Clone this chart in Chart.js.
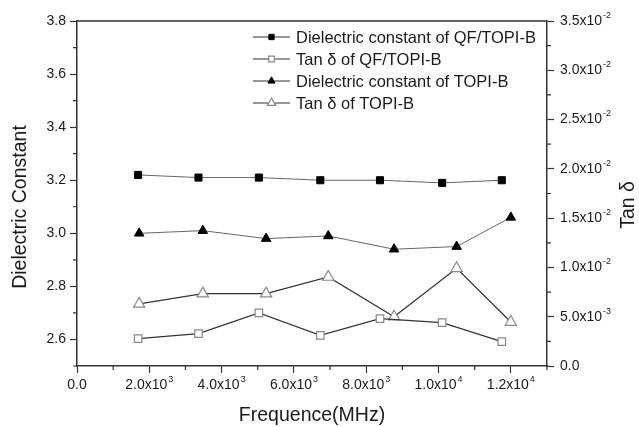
<!DOCTYPE html>
<html>
<head>
<meta charset="utf-8">
<script src="https://cdn.jsdelivr.net/npm/chart.js@4.4.1/dist/chart.umd.min.js"></script>
<style>
  html, body { margin: 0; padding: 0; background: #fff; }
  #wrap { width: 639px; height: 427px; position: relative; }
</style>
</head>
<body>
<div id="wrap"><canvas id="chart"></canvas></div>
<script>
// frequency (MHz) of the measured points
const freqQF = [1690, 3360, 5030, 6730, 8380, 10100, 11750];
const freqTOPI = [1720, 3480, 5230, 6950, 8770, 10500, 12000];

// dielectric constant, left axis
const dielQF = [3.22, 3.21, 3.21, 3.20, 3.20, 3.19, 3.20];
const dielTOPI = [3.00, 3.01, 2.98, 2.99, 2.94, 2.95, 3.06];

// tan delta, right axis
const tanQF = [0.00277, 0.00328, 0.00538, 0.00311, 0.00480, 0.00440, 0.00247];
const tanTOPI = [0.00630, 0.00734, 0.00734, 0.00903, 0.00500, 0.00991, 0.00446];

// major ticks
const xTicks = [0, 2000, 4000, 6000, 8000, 10000, 12000];
const leftTicks = [2.6, 2.8, 3.0, 3.2, 3.4, 3.6, 3.8];
const rightTicks = [0, 0.005, 0.01, 0.015, 0.02, 0.025, 0.03, 0.035];

const seriesNames = [
    'Dielectric constant of QF/TOPI-B',
    'Tan \u03b4 of QF/TOPI-B',
    'Dielectric constant of TOPI-B',
    'Tan \u03b4 of TOPI-B'
];

const FONT = '"Liberation Sans", Arial, sans-serif';
const TEXT = '#1a1a1a';
const AXIS = '#333';

function pts(xs, ys) {
    return xs.map((x, i) => ({ x: x, y: ys[i] }));
}

function useTicks(values) {
    return scale => { scale.ticks = values.map(v => ({ value: v })); };
}

// split a tick value into "m.mx10" and exponent
function sciParts(v) {
    if (Math.abs(v) < 1e-12) return ['0.0', ''];
    const e = Math.floor(Math.log10(v) + 1e-9);
    const m = v / Math.pow(10, e);
    return [m.toFixed(1) + 'x10', String(e)];
}

function drawLabel(ctx, base, sup, x, y, align, size) {
    ctx.font = size + 'px ' + FONT;
    const wb = ctx.measureText(base).width;
    const ss = size * 0.64;
    ctx.font = ss + 'px ' + FONT;
    const ws = sup ? ctx.measureText(sup).width + 1 : 0;
    let x0 = x;
    if (align === 'center') x0 = x - (wb + ws) / 2;
    if (align === 'right') x0 = x - wb - ws;
    ctx.textAlign = 'left';
    ctx.textBaseline = 'middle';
    ctx.fillStyle = TEXT;
    ctx.font = size + 'px ' + FONT;
    ctx.fillText(base, x0, y);
    if (sup) {
        ctx.font = ss + 'px ' + FONT;
        ctx.fillText(sup, x0 + wb + 1, y - size * 0.4);
    }
}

// legend symbol, a bit smaller than the plotted one
function marker(ctx, ds, x, y) {
    const opts = {
        pointStyle: ds.pointStyle,
        radius: ds.pointRadius * 0.75,
        rotation: 0,
        borderWidth: ds.pointBorderWidth
    };
    ctx.save();
    ctx.fillStyle = ds.pointBackgroundColor;
    ctx.strokeStyle = ds.pointBorderColor;
    ctx.lineWidth = ds.pointBorderWidth;
    Chart.helpers.drawPoint(ctx, opts, x, y);
    ctx.restore();
}

const decorations = {
    id: 'decorations',
    afterDraw(chart) {
        const ctx = chart.ctx;
        const area = chart.chartArea;
        const sx = chart.scales.x, sy = chart.scales.y, sr = chart.scales.y1;
        ctx.save();

        // top frame line
        ctx.strokeStyle = AXIS;
        ctx.lineWidth = 1.5;
        ctx.beginPath();
        ctx.moveTo(area.left, area.top);
        ctx.lineTo(area.right, area.top);
        ctx.stroke();

        // minor ticks, halfway between the major ones
        ctx.lineWidth = 1.2;
        ctx.beginPath();
        for (let i = 0; i < xTicks.length; i++) {
            const px = sx.getPixelForValue(xTicks[i] + 1000);
            ctx.moveTo(px, area.bottom);
            ctx.lineTo(px, area.bottom + 4);
        }
        for (let i = 0; i < leftTicks.length; i++) {
            const py = sy.getPixelForValue(leftTicks[i] - 0.1);
            ctx.moveTo(area.left, py);
            ctx.lineTo(area.left - 4, py);
        }
        for (let i = 0; i < rightTicks.length - 1; i++) {
            const py = sr.getPixelForValue(rightTicks[i] + 0.0025);
            ctx.moveTo(area.right, py);
            ctx.lineTo(area.right + 4, py);
        }
        ctx.stroke();

        // tick labels
        xTicks.forEach(v => {
            const p = sciParts(v);
            drawLabel(ctx, p[0], p[1], sx.getPixelForValue(v), area.bottom + 19, 'center', 14);
        });
        leftTicks.forEach(v => {
            drawLabel(ctx, v.toFixed(1), '', area.left - 11, sy.getPixelForValue(v), 'right', 14);
        });
        rightTicks.forEach(v => {
            const p = sciParts(v);
            drawLabel(ctx, p[0], p[1], area.right + 13, sr.getPixelForValue(v), 'left', 14);
        });

        // axis titles
        ctx.fillStyle = TEXT;
        ctx.font = '19.5px ' + FONT;
        ctx.textAlign = 'center';
        ctx.textBaseline = 'middle';
        ctx.fillText('Frequence(MHz)', (area.left + area.right) / 2, 416);
        ctx.save();
        ctx.translate(21, 207);
        ctx.rotate(-Math.PI / 2);
        ctx.fillText('Dielectric Constant', 0, 0);
        ctx.restore();
        ctx.save();
        ctx.translate(629, 205);
        ctx.rotate(-Math.PI / 2);
        ctx.fillText('Tan \u03b4', 0, 0);
        ctx.restore();

        // legend
        chart.data.datasets.forEach((ds, i) => {
            const y = 37 + i * 22;
            ctx.strokeStyle = '#333';
            ctx.lineWidth = 1;
            ctx.beginPath();
            ctx.moveTo(253, y);
            ctx.lineTo(290, y);
            ctx.stroke();
            marker(ctx, ds, 271.5, y);
            ctx.fillStyle = TEXT;
            ctx.font = '16.5px ' + FONT;
            ctx.textAlign = 'left';
            ctx.textBaseline = 'middle';
            ctx.fillText(ds.label, 296, y + 1);
        });

        ctx.restore();
    }
};

new Chart(document.getElementById('chart'), {
    type: 'scatter',
    data: {
        datasets: [{
            label: seriesNames[0],
            data: pts(freqQF, dielQF),
            yAxisID: 'y',
            showLine: true,
            borderColor: '#666',
            borderWidth: 1,
            pointStyle: 'rect',
            pointRadius: 5,
            pointBorderWidth: 1,
            pointBackgroundColor: '#000',
            pointBorderColor: '#000'
        }, {
            label: seriesNames[1],
            data: pts(freqQF, tanQF),
            yAxisID: 'y1',
            showLine: true,
            borderColor: '#333',
            borderWidth: 1.2,
            pointStyle: 'rect',
            pointRadius: 5.3,
            pointBorderWidth: 1.2,
            pointBackgroundColor: '#fff',
            pointBorderColor: '#888'
        }, {
            label: seriesNames[2],
            data: pts(freqTOPI, dielTOPI),
            yAxisID: 'y',
            showLine: true,
            borderColor: '#666',
            borderWidth: 1,
            pointStyle: 'triangle',
            pointRadius: 5.5,
            pointBorderWidth: 1,
            pointBackgroundColor: '#000',
            pointBorderColor: '#000'
        }, {
            label: seriesNames[3],
            data: pts(freqTOPI, tanTOPI),
            yAxisID: 'y1',
            showLine: true,
            borderColor: '#333',
            borderWidth: 1.2,
            pointStyle: 'triangle',
            pointRadius: 6.5,
            pointBorderWidth: 1.2,
            pointBackgroundColor: '#fff',
            pointBorderColor: '#888'
        }]
    },
    options: {
        responsive: true,
        maintainAspectRatio: false,
        animation: false,
        layout: { padding: { top: 21, left: 0, right: 0, bottom: 0 } },
        plugins: {
            legend: { display: false },
            tooltip: { enabled: false }
        },
        scales: {
            x: {
                type: 'linear',
                position: 'bottom',
                min: 0,
                max: 13000,
                afterBuildTicks: useTicks(xTicks),
                ticks: { display: false },
                grid: { drawOnChartArea: false, tickLength: 7, tickColor: AXIS, tickWidth: 1.2 },
                border: { color: AXIS, width: 1.5 },
                afterFit: s => { s.height = 61; }
            },
            y: {
                type: 'linear',
                position: 'left',
                min: 2.5,
                max: 3.8,
                afterBuildTicks: useTicks(leftTicks),
                ticks: { display: false },
                grid: { drawOnChartArea: false, tickLength: 7, tickColor: AXIS, tickWidth: 1.2 },
                border: { color: AXIS, width: 1.5 },
                afterFit: s => { s.width = 77; }
            },
            y1: {
                type: 'linear',
                position: 'right',
                min: 0,
                max: 0.035,
                afterBuildTicks: useTicks(rightTicks),
                ticks: { display: false },
                grid: { drawOnChartArea: false, tickLength: 7, tickColor: AXIS, tickWidth: 1.2 },
                border: { color: AXIS, width: 1.5 },
                afterFit: s => { s.width = 92; }
            }
        }
    },
    plugins: [decorations]
});
</script>
</body>
</html>
